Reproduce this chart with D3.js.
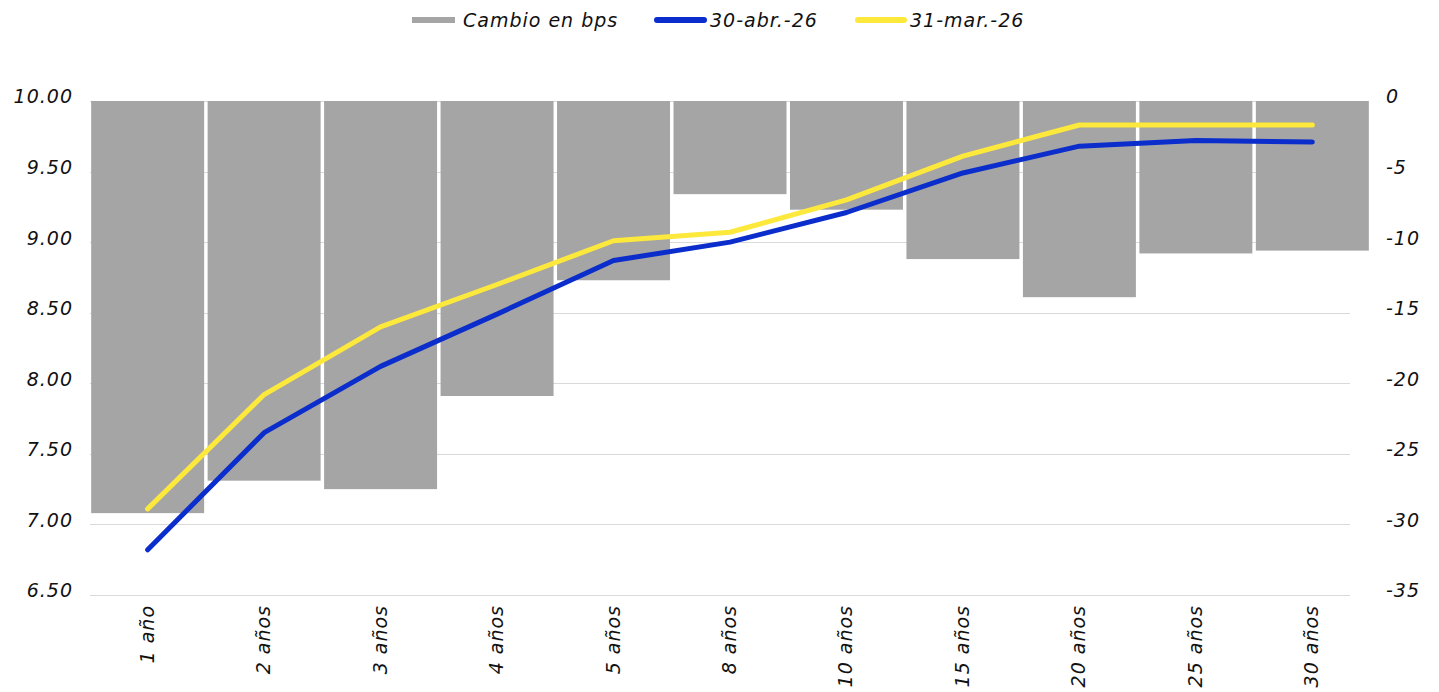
<!DOCTYPE html>
<html lang="es">
<head>
    <meta charset="UTF-8">
    <title>Curva de rendimientos</title>
    <style>
        body, html {
            margin: 0;
            padding: 0;
            background: #fff;
            overflow: hidden;
        }
        svg text {
            font-family: "DejaVu Sans", Lato, sans-serif;
            font-style: italic;
            letter-spacing: 1px;
            fill: #111;
        }
    </style>
</head>
<body>
    <svg id="chart" width="1439" height="692"></svg>

    <script src="https://cdnjs.cloudflare.com/ajax/libs/d3/7.8.5/d3.min.js"></script>
    <script>
        // Plazos
        const categories = ["1 año", "2 años", "3 años", "4 años", "5 años", "8 años",
            "10 años", "15 años", "20 años", "25 años", "30 años"];
        // Cambio en bps (eje derecho)
        const cambio = [-29.2, -26.9, -27.5, -20.9, -12.7, -6.6, -7.7, -11.2, -13.9, -10.8, -10.6];
        // Curva 30-abr.-26 (eje izquierdo)
        const abr26 = [6.82, 7.65, 8.12, 8.49, 8.87, 9.00, 9.21, 9.49, 9.68, 9.72, 9.71];
        // Curva 31-mar.-26 (eje izquierdo)
        const mar26 = [7.11, 7.92, 8.40, 8.70, 9.01, 9.07, 9.30, 9.61, 9.83, 9.83, 9.83];
        const leftTicks = [6.5, 7, 7.5, 8, 8.5, 9, 9.5, 10];
        const rightTicks = [-35, -30, -25, -20, -15, -10, -5, 0];

        const svg = d3.select("#chart");
        const plotTop = 101, plotBottom = 595, plotLeft = 90, plotRight = 1370, gridEnd = 1350;
        const fontSize = 19;

        const x = d3.scaleBand()
            .domain(categories)
            .range([plotLeft, plotRight])
            .paddingInner(0.03)
            .paddingOuter(0.01);
        const yL = d3.scaleLinear().domain([6.5, 10]).range([plotBottom, plotTop]);
        const yR = d3.scaleLinear().domain([-35, 0]).range([plotBottom, plotTop]);

        // gridlines (behind bars)
        svg.append("g")
            .selectAll("line")
            .data(leftTicks)
            .join("line")
            .attr("x1", plotLeft)
            .attr("x2", gridEnd)
            .attr("y1", d => Math.round(yL(d)) + 0.5)
            .attr("y2", d => Math.round(yL(d)) + 0.5)
            .attr("stroke", "#d9d9d9")
            .attr("stroke-width", 1);

        // bars
        svg.append("g")
            .selectAll("rect")
            .data(cambio)
            .join("rect")
            .attr("x", (d, i) => x(categories[i]))
            .attr("width", x.bandwidth())
            .attr("y", yR(0))
            .attr("height", d => yR(d) - yR(0))
            .attr("fill", "#a5a5a5");

        // lines
        const line = d3.line()
            .x((d, i) => x(categories[i]) + x.bandwidth() / 2)
            .y(d => yL(d));

        svg.append("path")
            .datum(mar26)
            .attr("d", line)
            .attr("fill", "none")
            .attr("stroke", "#fde83c")
            .attr("stroke-width", 5)
            .attr("stroke-linecap", "round")
            .attr("stroke-linejoin", "round");

        svg.append("path")
            .datum(abr26)
            .attr("d", line)
            .attr("fill", "none")
            .attr("stroke", "#0a2dcc")
            .attr("stroke-width", 5)
            .attr("stroke-linecap", "round")
            .attr("stroke-linejoin", "round");

        // left axis
        const axL = svg.append("g")
            .attr("transform", `translate(${plotLeft - 17},0)`)
            .call(d3.axisLeft(yL).tickValues(leftTicks).tickFormat(d3.format(".2f")).tickSize(0).tickPadding(0));
        axL.select(".domain").remove();
        axL.selectAll("text")
            .attr("font-size", fontSize)
            .attr("dy", "0.1em");

        // right axis
        const axR = svg.append("g")
            .attr("transform", `translate(1386,0)`)
            .call(d3.axisRight(yR).tickValues(rightTicks).tickFormat(d => d).tickSize(0).tickPadding(0));
        axR.select(".domain").remove();
        axR.selectAll("text")
            .attr("font-size", fontSize)
            .attr("dy", "0.1em");

        // category axis, rotated
        svg.append("g")
            .selectAll("text")
            .data(categories)
            .join("text")
            .attr("transform", d => `translate(${x(d) + x.bandwidth() / 2 + 6},605) rotate(-90)`)
            .attr("text-anchor", "end")
            .attr("font-size", fontSize)
            .text(d => d);

        // legend
        const legend = [
            { label: "Cambio en bps", color: "#a5a5a5", x0: 412, w: 43, cap: "butt" },
            { label: "30-abr.-26", color: "#0a2dcc", x0: 657, w: 47, cap: "round" },
            { label: "31-mar.-26", color: "#fde83c", x0: 858, w: 46, cap: "round" }
        ];
        const lg = svg.append("g").selectAll("g")
            .data(legend)
            .join("g")
            .attr("transform", d => `translate(${d.x0},20)`);
        lg.append("line")
            .attr("x1", 0)
            .attr("x2", d => d.w)
            .attr("stroke", d => d.color)
            .attr("stroke-width", 6)
            .attr("stroke-linecap", d => d.cap);
        lg.append("text")
            .attr("x", d => d.w + (d.cap === "butt" ? 8 : 6))
            .attr("dy", "0.35em")
            .attr("font-size", fontSize)
            .text(d => d.label);
    </script>
</body>
</html>
